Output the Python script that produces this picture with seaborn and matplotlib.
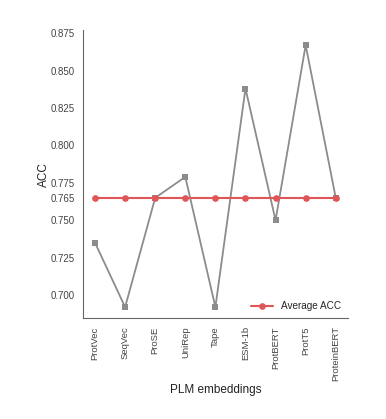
import pandas as pd
import matplotlib
matplotlib.use("Agg")
import matplotlib.pyplot as plt
import seaborn as sns

# data
models = ["ProtVec", "SeqVec", "ProSE", "UniRep", "Tape",
          "ESM-1b", "ProtBERT", "ProtT5", "ProteinBERT"]
acc = [0.735, 0.692, 0.765, 0.779, 0.692, 0.838, 0.750, 0.867, 0.765]
avg_acc = [0.765] * len(models)
y_ticks = [0.700, 0.725, 0.750, 0.765, 0.775, 0.800, 0.825, 0.850, 0.875]

df = pd.DataFrame({"model": models, "acc": acc, "avg": avg_acc})

sns.set_style("white")
plt.rcParams["font.family"] = ["Liberation Sans", "DejaVu Sans"]

fig = plt.figure(figsize=(3.86, 4.19), dpi=100)
ax = fig.add_axes([0.215, 0.241, 0.686, 0.687])

sns.lineplot(data=df, x="model", y="acc", marker="s", color="#8c8c8c",
             markersize=4.8, markeredgewidth=0, linewidth=1.3, ax=ax)
sns.lineplot(data=df, x="model", y="avg", marker="o", color="#e05555",
             markersize=4.8, markeredgewidth=0, linewidth=1.5,
             label="Average ACC", ax=ax)

ax.set_xlim(-0.4, len(models) - 0.6)
ax.set_ylim(0.6847, 0.877)
ax.set_yticks(y_ticks)
ax.set_yticklabels([f"{t:.3f}" for t in y_ticks], fontsize=7, color="#444444")
ax.tick_params(axis="x", labelrotation=90, labelsize=6.8, colors="#444444")
ax.tick_params(length=0, pad=6)

ax.set_xlabel("PLM embeddings", fontsize=8.5, color="#222222", labelpad=2)
ax.set_ylabel("ACC", fontsize=8.5, color="#222222", labelpad=0)

for side in ["top", "right"]:
    ax.spines[side].set_visible(False)
ax.spines["left"].set_color("#666666")
ax.spines["bottom"].set_color("#666666")

ax.legend(loc="lower right", frameon=False, fontsize=7.2, handlelength=2.2,
          borderaxespad=0.3)

fig.savefig("out.png", dpi=100)
